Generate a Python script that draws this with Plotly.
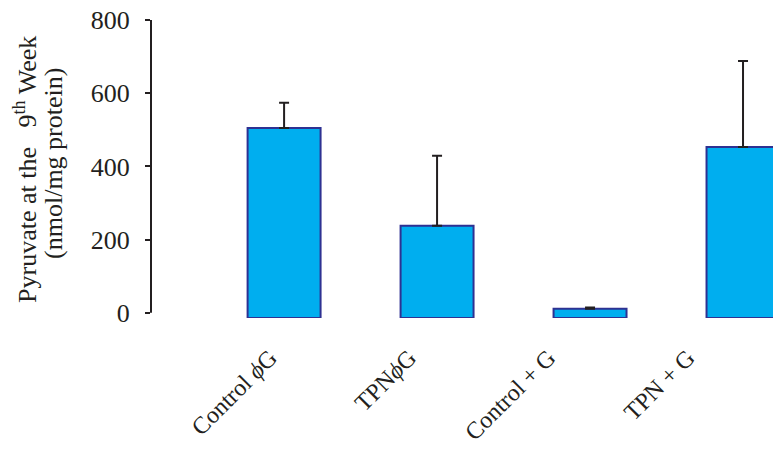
import plotly.graph_objects as go

categories = ["Control <i>ϕ</i>G", "TPN<i>ϕ</i>G", "Control + G", "TPN + G"]
values = [505, 238, 11, 453]
errors_up = [69, 191, 4, 235]
y_ticks = [0, 200, 400, 600, 800]
title_lines = ["Pyruvate at the&nbsp;&nbsp; 9<sup>th</sup> Week", "(nmol/mg protein)"]

BASE = -14
FILL = "#00AEEF"
EDGE = "#2E3192"
INK = "#231F20"
FONT = "Liberation Serif"

idx = list(range(len(categories)))

fig = go.Figure()
fig.add_trace(go.Bar(
    x=idx,
    y=[v - BASE for v in values],
    base=BASE,
    width=0.477,
    marker=dict(color=FILL, line=dict(color=EDGE, width=2)),
    error_y=dict(type="data", symmetric=False, array=errors_up,
                 arrayminus=[0] * len(errors_up),
                 color=INK, thickness=2, width=5),
    hovertext=categories,
    showlegend=False,
))
# carrier trace for the category label axis
fig.add_trace(go.Scatter(x=idx, y=[None] * len(idx), xaxis="x2", mode="markers",
                         showlegend=False, hoverinfo="skip"))

fig.add_shape(type="line", xref="paper", yref="y", x0=0, x1=0, y0=0, y1=800,
              line=dict(color=INK, width=2))

# two-line y-axis title as rotated annotations
for text, xs, yc in [(title_lines[0], -125, 0.497), (title_lines[1], -97, 0.517)]:
    fig.add_annotation(text=text, xref="paper", yref="paper", x=0, y=yc,
                       xshift=xs, xanchor="center", yanchor="middle",
                       textangle=-90, showarrow=False,
                       font=dict(family=FONT, size=26, color=INK))

fig.update_layout(
    width=773, height=452,
    margin=dict(l=151, r=0, t=20, b=134, autoexpand=False),
    plot_bgcolor="white", paper_bgcolor="white",
    font=dict(family=FONT, color=INK),
    xaxis=dict(
        range=[-0.87, 3.196],
        showline=False, showgrid=False, zeroline=False,
        showticklabels=False, ticks="",
    ),
    xaxis2=dict(
        overlaying="x", anchor="y", side="bottom",
        range=[-0.855, 3.613],
        tickvals=idx, ticktext=categories,
        showline=False, showgrid=False, zeroline=False,
        ticks="", tickangle=-45,
        tickfont=dict(family=FONT, size=24, color=INK),
        ticklabelstandoff=20,
    ),
    yaxis=dict(
        range=[BASE, 800],
        tickvals=y_ticks,
        showline=False, showgrid=False, zeroline=False,
        ticks="outside", ticklen=5, tickwidth=2, tickcolor=INK,
        tickfont=dict(family=FONT, size=26, color=INK),
        ticklabelstandoff=10,
        automargin=False,
    ),
)

fig.write_html("out.html")
